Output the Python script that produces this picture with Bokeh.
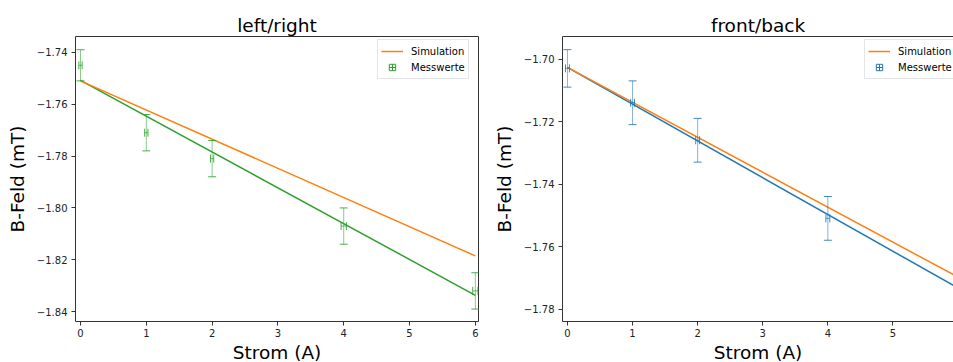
from bokeh.plotting import figure
from bokeh.layouts import row
from bokeh.models import (ColumnDataSource, Whisker, TeeHead, Legend, LegendItem, Title,
                          FixedTicker, CustomJSTickFormatter, LinearAxis, Range1d)
from bokeh.embed import file_html
from bokeh.resources import INLINE

# --- left/right probe -------------------------------------------------------
current_lr = [0, 1, 2, 4, 6]            # Strom (A)
field_lr = [-1.745, -1.771, -1.781, -1.807, -1.832]   # B-Feld (mT)
field_lr_err = [0.006, 0.007, 0.007, 0.007, 0.007]
current_lr_err = [0.025, 0.025, 0.025, 0.04, 0.04]
line_x_lr = [0, 6]
fit_lr = [-1.7508, -1.8337]
sim_lr = [-1.7510, -1.8185]

# --- front/back probe -------------------------------------------------------
current_fb = [0, 1, 2, 4]
field_fb = [-1.703, -1.714, -1.726, -1.751]
field_fb_err = [0.006, 0.007, 0.007, 0.007]
current_fb_err = [0.03, 0.03, 0.03, 0.03]
line_x_fb = [0, 6]
fit_fb = [-1.7027, -1.7733]
sim_fb = [-1.7027, -1.7698]

x_ticks = [0, 1, 2, 3, 4, 5, 6]
y_ticks_lr = [-1.84, -1.82, -1.80, -1.78, -1.76, -1.74]
y_ticks_fb = [-1.78, -1.76, -1.74, -1.72, -1.70]

BLUE, ORANGE, GREEN = "#1f77b4", "#ff7f0e", "#2ca02c"
FONT = "DejaVu Sans"
SPINE = "#333333"


def make_panel(title, xs, ys, yerr, xerr, lx, fit, sim, color, yticks,
               x_range, y_range, width, border_left, border_right, boxed):
    p = figure(width=width, height=362, output_backend="svg", toolbar_location=None,
               x_range=Range1d(*x_range), y_range=Range1d(*y_range),
               min_border_left=border_left, min_border_right=border_right,
               min_border_top=36, min_border_bottom=0,
               background_fill_color="white", border_fill_color="white")
    p.xgrid.visible = False
    p.ygrid.visible = False

    p.title.text = title
    p.title.align = "center"
    p.title.text_font = FONT
    p.title.text_font_size = "18.5px"
    p.title.text_font_style = "normal"
    p.title.text_color = "black"
    p.title.standoff = 2
    if not boxed:
        p.title.offset = 4

    for ax in (p.xaxis[0], p.yaxis[0]):
        ax.major_tick_out = 4
        ax.major_tick_in = 0
        ax.minor_tick_out = 0
        ax.minor_tick_in = 0
        ax.major_tick_line_color = SPINE
        ax.axis_line_color = SPINE if not boxed else None
        ax.major_label_text_font = FONT
        ax.major_label_text_font_size = "10px"
        ax.major_label_text_color = "#222222"
    p.xaxis[0].ticker = FixedTicker(ticks=x_ticks)
    p.xaxis[0].major_label_standoff = 3
    p.yaxis[0].ticker = FixedTicker(ticks=yticks)
    p.yaxis[0].major_label_standoff = 4
    p.yaxis[0].formatter = CustomJSTickFormatter(
        code="return tick.toFixed(2).replace('-', '\u2212')")
    p.yaxis[0].axis_label = "B-Feld (mT)"
    p.yaxis[0].axis_label_text_font = FONT
    p.yaxis[0].axis_label_text_font_size = "18.5px"
    p.yaxis[0].axis_label_text_font_style = "normal"
    p.yaxis[0].axis_label_text_color = "black"
    p.yaxis[0].axis_label_standoff = 6

    if boxed:
        p.outline_line_color = SPINE
        p.outline_line_width = 1
    else:
        p.outline_line_color = None
        top = LinearAxis(ticker=FixedTicker(ticks=[]), major_tick_out=0, major_tick_in=0,
                         minor_tick_out=0, minor_tick_in=0, major_label_standoff=0,
                         major_label_text_font_size="0px", axis_line_color=SPINE)
        p.add_layout(top, "above")

    # x axis title, centred on the full frame width
    p.add_layout(Title(text="Strom (A)", align="center", offset=0 if boxed else 4,
                       standoff=0, text_font=FONT, text_font_size="18.5px",
                       text_font_style="normal", text_color="black"), "below")

    # straight-line fit through the measurements and the simulation
    p.line(lx, fit, line_color=color, line_width=1.5)
    sim_r = p.line(lx, sim, line_color=ORANGE, line_width=1.5)

    src = ColumnDataSource(dict(
        x=xs, y=ys,
        yu=[v + e for v, e in zip(ys, yerr)], yl=[v - e for v, e in zip(ys, yerr)],
        xu=[v + e for v, e in zip(xs, xerr)], xl=[v - e for v, e in zip(xs, xerr)],
    ))

    def head():
        return TeeHead(size=8, line_color=color, line_alpha=0.85, line_width=1)

    p.add_layout(Whisker(source=src, base="x", upper="yu", lower="yl", dimension="height",
                         line_color=color, line_alpha=0.55, line_width=1,
                         upper_head=head(), lower_head=head(), level="glyph"))
    p.add_layout(Whisker(source=src, base="y", upper="xu", lower="xl", dimension="width",
                         line_color=color, line_alpha=0.7, line_width=1,
                         upper_head=head(), lower_head=head(), level="glyph"))
    meas_r = p.scatter("x", "y", source=src, marker="square_cross", size=0,
                       line_color=color, fill_color=None, line_width=1)

    legend = Legend(items=[LegendItem(label="Simulation", renderers=[sim_r]),
                           LegendItem(label="Messwerte", renderers=[meas_r])],
                    location=(302, 242), orientation="vertical",
                    label_text_font=FONT, label_text_font_size="10px", label_text_color="black",
                    glyph_width=22, glyph_height=16, label_height=16, spacing=-2,
                    label_standoff=8, padding=3, margin=0,
                    border_line_color="#cccccc", border_line_width=1,
                    background_fill_color="white", background_fill_alpha=0.8)
    p.add_layout(legend, "center")
    return p


left = make_panel("left/right", current_lr, field_lr, field_lr_err, current_lr_err,
                  line_x_lr, fit_lr, sim_lr, GREEN, y_ticks_lr,
                  (-0.076, 6.048), (-1.8438, -1.7339), 490, 75, 12, True)
right = make_panel("front/back", current_fb, field_fb, field_fb_err, current_fb_err,
                   line_x_fb, fit_fb, sim_fb, BLUE, y_ticks_fb,
                   (-0.076, 5.93), (-1.7840, -1.6928), 463, 68, 0, False)

layout = row(left, right)
open("out.html", "w").write(file_html(layout, INLINE))
